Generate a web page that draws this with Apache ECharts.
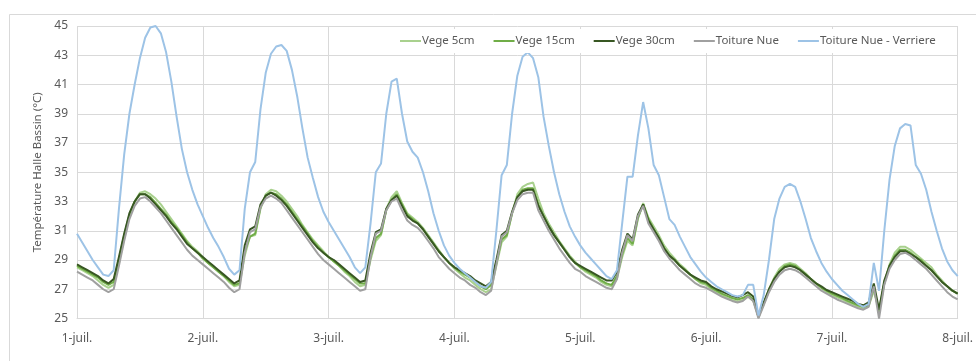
<!DOCTYPE html>
<html>
<head>
<meta charset="utf-8">
<script src="https://cdn.jsdelivr.net/npm/echarts@6/dist/echarts.min.js"></script>
<style>
html,body{margin:0;padding:0;background:#fff;}
#chart{width:976px;height:361px;}
</style>
</head>
<body>
<div id="chart"></div>
<script>
// Tick labels
const xTickLabels = ["1-juil.", "2-juil.", "3-juil.", "4-juil.", "5-juil.", "6-juil.", "7-juil.", "8-juil."];
const yTicks = [25, 27, 29, 31, 33, 35, 37, 39, 41, 43, 45];
const seriesNames = ["Vege 5cm", "Vege 15cm", "Vege 30cm", "Toiture Nue", "Toiture Nue - Verriere"];

// Hourly values (hour 0 = 1-juil. 00:00 ... hour 168 = 8-juil. 00:00)
const vege5 = [
28.5,28.3,28.1,27.9,27.6,27.3,27.1,27.3,28.8,30.5,32.0,33.0,33.6,33.7,33.5,33.2,32.8,32.3,31.8,31.3,30.8,30.3,29.9,29.6,
29.2,28.8,28.5,28.2,27.9,27.5,27.2,27.3,29.3,30.6,30.7,32.5,33.5,33.8,33.7,33.4,33.0,32.5,32.0,31.4,30.9,30.4,30.0,29.6,
29.2,28.9,28.6,28.2,27.9,27.5,27.2,27.3,29.0,30.3,30.7,32.5,33.3,33.7,32.9,32.2,31.9,31.6,31.2,30.7,30.2,29.7,29.2,28.8,
28.4,28.1,27.8,27.6,27.3,27.0,26.8,27.0,28.6,30.2,30.6,32.2,33.5,34.0,34.2,34.3,33.2,32.2,31.5,30.9,30.3,29.8,29.3,28.9,
28.5,28.2,28.0,27.8,27.5,27.3,27.2,27.7,29.2,30.3,30.0,31.8,32.9,31.9,31.3,30.7,30.0,29.5,29.1,28.7,28.4,28.0,27.7,27.4,
27.3,27.0,26.8,26.6,26.4,26.25,26.15,26.25,26.5,26.2,25.2,26.0,27.0,27.8,28.4,28.7,28.8,28.7,28.4,28.1,27.7,27.4,27.1,26.8,
26.6,26.45,26.3,26.1,25.95,25.8,25.7,25.8,26.9,25.6,27.4,28.7,29.5,29.9,29.9,29.7,29.4,29.1,28.8,28.5,28.0,27.6,27.2,26.9,
26.7];

const vege15 = [
28.6,28.4,28.2,28.0,27.8,27.5,27.3,27.5,29.0,30.7,32.1,33.0,33.5,33.5,33.3,32.9,32.5,32.1,31.6,31.2,30.7,30.2,29.8,29.5,
29.1,28.8,28.5,28.2,27.9,27.6,27.3,27.4,29.6,30.6,30.8,32.6,33.4,33.6,33.5,33.2,32.8,32.3,31.8,31.3,30.8,30.3,29.9,29.5,
29.2,28.9,28.6,28.3,28.0,27.7,27.4,27.4,29.2,30.5,30.8,32.4,33.1,33.5,32.8,32.1,31.8,31.5,31.1,30.6,30.1,29.6,29.2,28.8,
28.5,28.2,28.0,27.8,27.5,27.2,27.0,27.3,28.8,30.4,30.7,32.2,33.3,33.8,33.9,33.9,32.8,32.0,31.3,30.7,30.2,29.7,29.2,28.8,
28.5,28.3,28.1,27.9,27.6,27.4,27.3,27.9,29.4,30.5,30.1,31.9,32.8,31.8,31.1,30.5,29.8,29.3,29.0,28.6,28.3,28.0,27.7,27.5,
27.4,27.1,26.9,26.7,26.55,26.4,26.3,26.4,26.6,26.3,25.1,26.0,26.9,27.7,28.2,28.6,28.7,28.6,28.3,28.0,27.7,27.4,27.1,26.9,
26.7,26.55,26.4,26.2,26.05,25.9,25.8,25.9,27.1,25.4,27.4,28.6,29.3,29.7,29.7,29.5,29.2,29.0,28.6,28.3,27.9,27.5,27.2,26.9,
26.7];

const vege30 = [
28.7,28.5,28.3,28.1,27.9,27.6,27.4,27.7,29.2,30.8,32.2,33.0,33.5,33.5,33.2,32.8,32.4,32.0,31.5,31.1,30.6,30.1,29.8,29.5,
29.2,28.9,28.6,28.3,28.0,27.7,27.4,27.6,30.0,31.1,31.3,32.8,33.4,33.6,33.4,33.1,32.7,32.2,31.7,31.2,30.7,30.2,29.8,29.5,
29.2,29.0,28.7,28.4,28.1,27.8,27.5,27.6,29.5,30.9,31.1,32.5,33.1,33.4,32.7,32.0,31.7,31.5,31.1,30.6,30.1,29.6,29.2,28.8,
28.5,28.3,28.1,27.9,27.6,27.4,27.2,27.5,29.0,30.7,31.0,32.3,33.3,33.7,33.8,33.8,32.7,32.0,31.3,30.7,30.2,29.7,29.2,28.8,
28.6,28.4,28.2,28.0,27.8,27.6,27.6,28.2,29.7,30.8,30.4,32.1,32.8,31.7,31.1,30.5,29.8,29.3,29.0,28.6,28.3,28.0,27.8,27.6,
27.5,27.2,27.0,26.85,26.7,26.55,26.45,26.6,26.8,26.5,25.1,26.1,27.0,27.7,28.2,28.5,28.6,28.5,28.3,28.0,27.7,27.4,27.2,26.95,
26.8,26.65,26.5,26.35,26.2,26.0,25.9,26.1,27.4,25.6,27.6,28.6,29.2,29.6,29.6,29.4,29.2,28.9,28.6,28.3,27.9,27.5,27.2,26.9,
26.7];

const toitureNue = [
28.2,28.0,27.8,27.6,27.3,27.0,26.8,27.0,28.6,30.3,31.8,32.7,33.2,33.3,33.0,32.6,32.2,31.7,31.2,30.7,30.2,29.7,29.3,29.0,
28.7,28.4,28.1,27.8,27.5,27.1,26.8,27.0,29.5,30.9,31.1,32.6,33.2,33.4,33.2,32.9,32.4,31.9,31.4,30.9,30.4,29.9,29.4,29.0,
28.7,28.4,28.1,27.8,27.5,27.2,26.9,27.0,29.2,30.8,31.0,32.4,33.0,33.2,32.4,31.7,31.4,31.2,30.8,30.3,29.8,29.2,28.8,28.4,
28.1,27.8,27.6,27.3,27.1,26.8,26.6,26.9,28.7,30.6,30.9,32.2,33.1,33.5,33.6,33.6,32.4,31.7,31.0,30.4,29.8,29.3,28.8,28.4,
28.2,27.9,27.7,27.5,27.3,27.1,27.0,27.7,29.5,30.7,30.3,32.0,32.7,31.5,30.9,30.3,29.6,29.1,28.7,28.3,28.0,27.7,27.4,27.2,
27.1,26.9,26.7,26.5,26.35,26.2,26.1,26.2,26.5,26.2,25.0,25.9,26.8,27.5,28.0,28.3,28.4,28.3,28.1,27.8,27.5,27.2,26.9,26.7,
26.5,26.3,26.15,26.0,25.85,25.7,25.6,25.8,27.2,25.0,27.3,28.4,29.0,29.4,29.5,29.3,29.0,28.7,28.4,28.0,27.6,27.2,26.8,26.5,
26.3];

const verriere = [
30.8,30.2,29.6,29.0,28.5,28.0,27.9,28.3,32.5,36.2,39.0,41.0,42.8,44.2,44.9,45.0,44.5,43.2,41.2,38.8,36.6,35.0,33.8,32.8,
32.0,31.2,30.5,29.9,29.2,28.4,28.0,28.3,32.5,35.0,35.7,39.3,41.8,43.1,43.6,43.7,43.3,42.0,40.2,38.0,36.0,34.6,33.3,32.3,
31.6,31.0,30.4,29.8,29.2,28.5,28.1,28.5,31.5,35.0,35.6,39.0,41.2,41.4,39.0,37.1,36.4,36.0,35.0,33.7,32.2,31.0,30.0,29.3,
28.8,28.4,28.1,27.8,27.5,27.2,27.1,27.5,31.0,34.8,35.5,39.0,41.6,42.9,43.2,42.8,41.5,38.8,36.8,35.0,33.5,32.3,31.3,30.6,
30.0,29.5,29.1,28.7,28.3,27.9,27.7,28.3,31.5,34.7,34.7,37.5,39.8,38.0,35.5,34.8,33.3,31.8,31.4,30.6,29.9,29.2,28.7,28.2,
27.8,27.5,27.2,27.0,26.8,26.6,26.5,26.6,27.3,27.3,25.2,26.6,29.0,31.8,33.2,34.0,34.2,34.0,33.0,31.8,30.5,29.6,28.8,28.2,
27.7,27.3,26.9,26.6,26.3,26.0,25.8,26.0,28.8,26.9,31.0,34.5,36.8,38.0,38.3,38.2,35.5,34.9,33.8,32.3,31.0,29.8,28.9,28.3,
27.9];

const colors = ["#A9D18E", "#70AD47", "#385723", "#A0A0A0", "#9DC3E6"];
const allData = [vege5, vege15, vege30, toitureNue, verriere];
const hoursPerDay = 24;

const chart = echarts.init(document.getElementById('chart'), null, {renderer: 'canvas'});
const FONT = 'Noto Sans';

const option = {
  animation: false,
  backgroundColor: '#ffffff',
  color: colors,
  textStyle: {fontFamily: FONT},
  graphic: [{
    type: 'rect', left: 7, top: 12, shape: {width: 990, height: 380},
    style: {fill: 'none', stroke: '#D9D9D9', lineWidth: 1}, silent: true, z: -1
  }],
  legend: {
    data: seriesNames,
    left: 392, top: 29,
    backgroundColor: '#ffffff',
    padding: [6, 8],
    itemGap: 19,
    itemWidth: 21,
    itemHeight: 2,
    icon: 'rect',
    textStyle: {fontFamily: FONT, fontSize: 11.5, color: '#595959', padding: [0, 0, 0, -4]}
  },
  grid: {left: 77, right: 14, top: 26, bottom: 42.5, containLabel: false},
  xAxis: {
    type: 'value', min: 0, max: 7 * hoursPerDay, interval: hoursPerDay,
    axisLine: {show: true, lineStyle: {color: '#D9D9D9', width: 1}},
    axisTick: {show: false},
    splitLine: {show: true, lineStyle: {color: '#D9D9D9', width: 1}},
    axisLabel: {
      color: '#595959', fontSize: 12, fontFamily: FONT, margin: 14,
      formatter: function (v) { return xTickLabels[Math.round(v / hoursPerDay)] || ''; }
    }
  },
  yAxis: {
    type: 'value', min: 25, max: 45,
    name: 'Température Halle Bassin (°C)', nameLocation: 'middle', nameGap: 33,
    nameTextStyle: {color: '#595959', fontSize: 11.5, fontFamily: FONT},
    axisLine: {show: false},
    axisTick: {show: false, customValues: yTicks},
    splitLine: {show: true, lineStyle: {color: '#D9D9D9', width: 1}},
    axisLabel: {customValues: yTicks, color: '#595959', fontSize: 12, fontFamily: FONT, margin: 9}
  },
  series: seriesNames.map(function (name, i) {
    return {
      name: name, type: 'line', symbol: 'none', smooth: false,
      lineStyle: {width: 2, color: colors[i]},
      itemStyle: {color: colors[i]},
      data: allData[i].map(function (v, h) { return [h, v]; })
    };
  })
};
chart.setOption(option);
</script>
</body>
</html>
